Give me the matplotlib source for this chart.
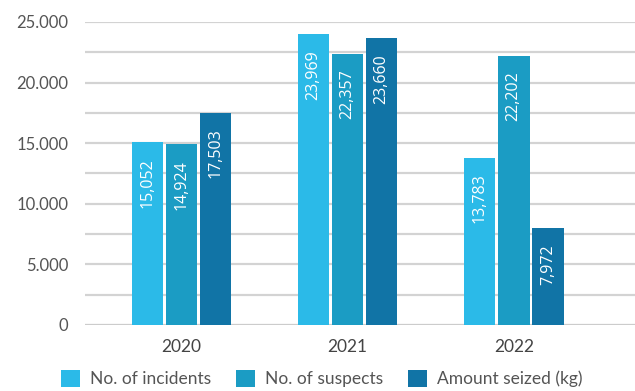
import numpy as np
import matplotlib
matplotlib.use("Agg")
from matplotlib import pyplot as plt
from matplotlib.ticker import FuncFormatter, MultipleLocator

years = ["2020", "2021", "2022"]
incidents = [15052, 23969, 13783]
suspects = [14924, 22357, 22202]
seized_kg = [17503, 23660, 7972]

series = [
    ("No. of incidents", incidents, "#2bbae8"),
    ("No. of suspects", suspects, "#1b9cc4"),
    ("Amount seized (kg)", seized_kg, "#1174a6"),
]

plt.rcParams["font.family"] = ["Lato", "DejaVu Sans"]

fig = plt.figure(figsize=(6.35, 3.91), dpi=100)
ax = fig.add_axes([0.134, 0.169, 0.866, 0.775])

x = np.arange(len(years))
width = 0.19
step = 0.205

for i, (name, vals, color) in enumerate(series):
    pos = x + (i - 1) * step
    bars = ax.bar(pos, vals, width, color=color, label=name, zorder=3)
    for b, v in zip(bars, vals):
        ax.text(b.get_x() + b.get_width() / 2, v - 1300, f"{v:,}",
                rotation=90, ha="center", va="top", color="white",
                fontsize=11.5, family=["Open Sans", "DejaVu Sans"], zorder=4)

ax.set_xlim(-0.58, 2.73)
ax.set_ylim(0, 25000)
ax.yaxis.set_major_locator(MultipleLocator(5000))
ax.yaxis.set_minor_locator(MultipleLocator(2500))
ax.yaxis.set_major_formatter(FuncFormatter(lambda v, p: f"{int(v):,}".replace(",", ".")))
ax.grid(axis="y", which="both", color="#d3d3d3", lw=1.6, zorder=0)
ax.axhline(0, color="#cccccc", lw=2.2, zorder=2)

for s in ax.spines.values():
    s.set_visible(False)
ax.tick_params(axis="y", which="both", length=0, pad=12, labelsize=12, labelcolor="#555555")
ax.tick_params(axis="x", length=0, pad=10, labelsize=12.5, labelcolor="#444444")
ax.set_xticks(x)
ax.set_xticklabels(years)

fig.legend(loc="lower left", bbox_to_anchor=(0.072, -0.03), ncol=3, frameon=False,
           handlelength=1.1, handleheight=1.1, handletextpad=0.55, columnspacing=1.45,
           fontsize=12.5, labelcolor="#555555")

fig.savefig("out.png", dpi=100)
